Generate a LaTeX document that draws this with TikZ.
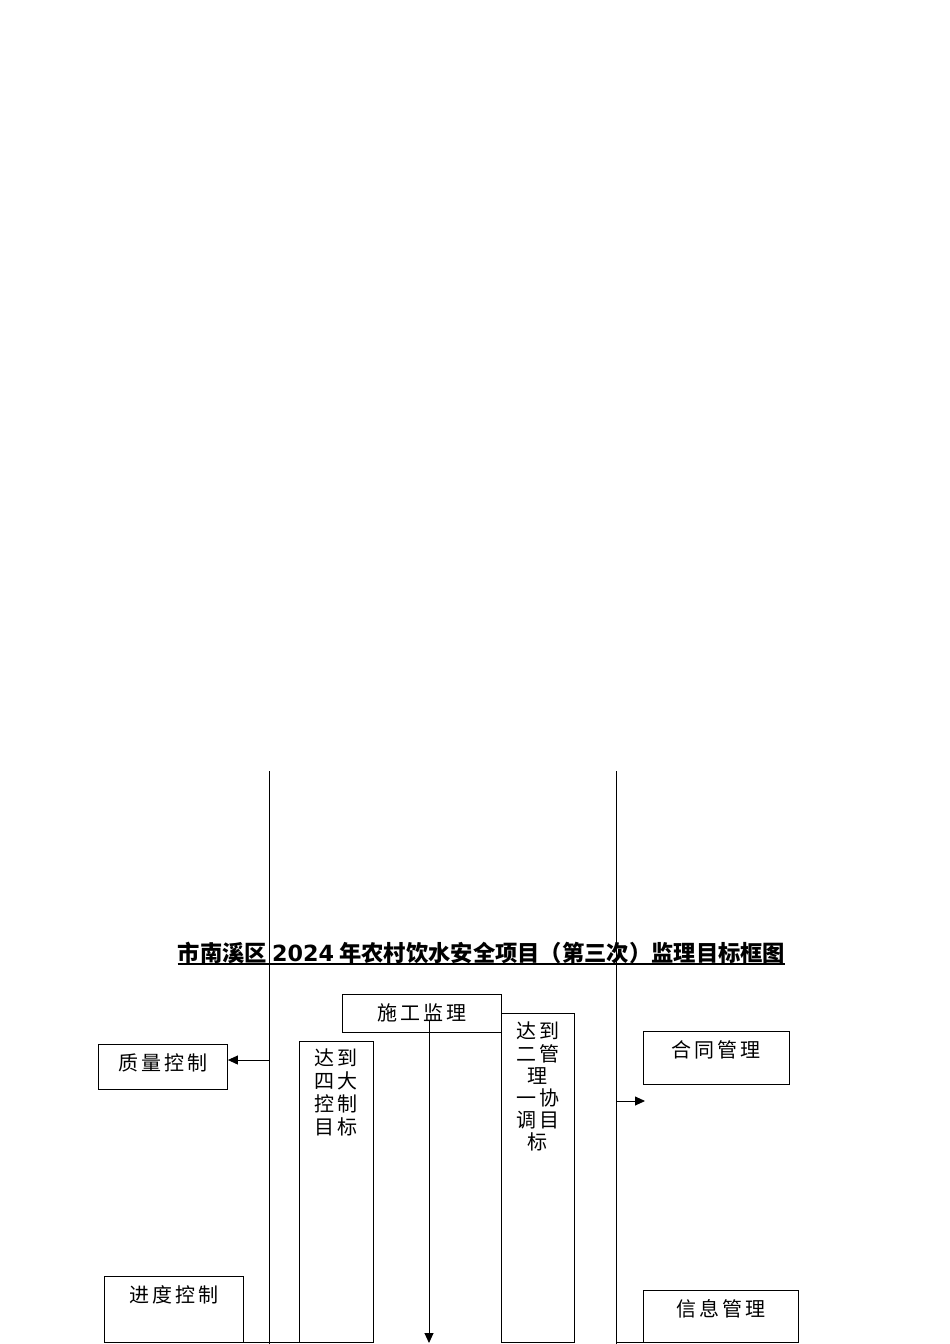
\documentclass[tikz,border=0pt]{standalone}
\usepackage{fontspec}
\newfontfamily\cjk{Noto Sans CJK SC}
\newfontfamily\cjkwide{Noto Sans CJK SC}[LetterSpace=15]
\newfontfamily\latin{DejaVu Sans}
\usetikzlibrary{positioning, arrows.meta}
\tikzset{
	box/.style={draw, line width=0.9pt, inner sep=0pt, anchor=north west},
	boxtext/.style={font=\fontsize{20}{23}\selectfont\cjkwide, inner sep=0pt, align=center, anchor=north},
	rail/.style={line width=0.9pt},
	arrowline/.style={line width=0.9pt, -{Triangle[length=10pt, width=9pt]}},
}
\begin{document}
\begin{tikzpicture}[x=1pt, y=-1pt]
	\useasboundingbox (0,0) rectangle (950,1344);

	% title
	\node[inner sep=0pt, anchor=base, font=\fontsize{22.3}{26}\selectfont\cjk\bfseries] (title) at (481.5,961)
		{市南溪区 {\latin\bfseries 2024} 年农村饮水安全项目（第三次）监理目标框图};
	\draw[line width=1.3pt] ([yshift=-3pt]title.base west) -- ([yshift=-3pt]title.base east);

	% boxes
	\node[box, minimum width=159pt, minimum height=38pt] (shigong) at (342,994) {};
	\node[box, minimum width=129pt, minimum height=45pt] (zhiliang) at (98,1044) {};
	\node[box, minimum width=74pt, minimum height=301pt] (sida) at (299,1041) {};
	\node[box, minimum width=73pt, minimum height=329pt] (erguan) at (501,1013) {};
	\node[box, minimum width=146pt, minimum height=53pt] (hetong) at (643,1031) {};
	\node[box, minimum width=139pt, minimum height=66pt] (jindu) at (104,1276) {};
	\node[box, minimum width=155pt, minimum height=52pt] (xinxi) at (643,1290) {};

	\node[boxtext] at ([yshift=-9pt]shigong.north) {施工监理};
	\node[boxtext] at ([yshift=-9pt]zhiliang.north) {质量控制};
	\node[boxtext] at ([yshift=-8pt]sida.north) {达到\\四大\\控制\\目标};
	\node[boxtext, font=\fontsize{20}{22.2}\selectfont\cjkwide] at ([yshift=-9pt]erguan.north) {达到\\二管\\理\\一协\\调目\\标};
	\node[boxtext] at ([yshift=-9pt]hetong.north) {合同管理};
	\node[boxtext] at ([yshift=-9pt]jindu.north) {进度控制};
	\node[boxtext] at ([yshift=-9pt]xinxi.north) {信息管理};

	% rails and arrows
	\coordinate (ltop) at (269,771);
	\coordinate (lbot) at (269,1344);
	\coordinate (rtop) at (616,771);
	\coordinate (rbot) at (616,1344);
	\coordinate (lq) at (269,1060);
	\coordinate (rq) at (616,1101);
	\coordinate (rqend) at (645,1101);
	\coordinate (sgdown) at (429,1021);
	\coordinate (sgend) at (429,1343);

	\draw[rail] (ltop) -- (lbot);
	\draw[rail] (rtop) -- (rbot);
	\draw[arrowline] (lq) -- (lq -| zhiliang.east);
	\draw[arrowline] (rq) -- (rqend);
	\draw[arrowline] (sgdown) -- (sgend);
	\draw[rail] (jindu.south east) -- (sida.south west);
	\draw[rail] (rbot |- xinxi.south) -- (xinxi.south west);
\end{tikzpicture}
\end{document}
